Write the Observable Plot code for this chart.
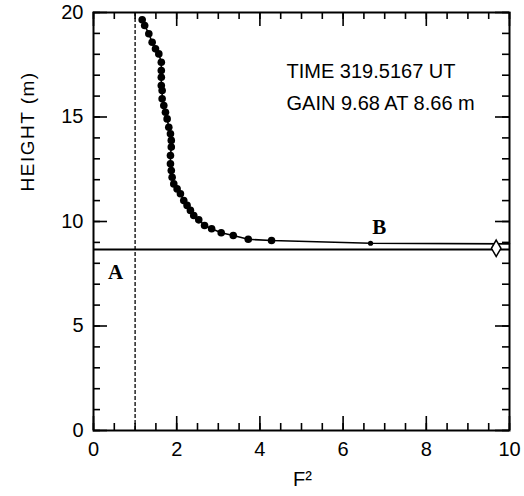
<!DOCTYPE html>
<html>
<head>
<meta charset="utf-8">
<script src="https://cdn.jsdelivr.net/npm/d3@7"></script>
<script src="https://cdn.jsdelivr.net/npm/@observablehq/plot@0.6"></script>
<style>
  body { margin: 0; background: #fff; }
  svg { font-family: "Liberation Sans", Arial, sans-serif; }
</style>
</head>
<body>
<div id="chart"></div>
<script>
// Profile points: F^2 and height (m)
const f2 = [1.17, 1.23, 1.33, 1.41, 1.49, 1.57, 1.63, 1.63, 1.63, 1.63, 1.65, 1.65, 1.69, 1.73, 1.77, 1.81, 1.85, 1.87, 1.87, 1.85, 1.85, 1.87, 1.89, 1.93, 2.01, 2.09, 2.17, 2.25, 2.33, 2.41, 2.53, 2.67, 2.84, 3.07, 3.36, 3.72, 4.28];
const height = [19.65, 19.38, 18.98, 18.58, 18.26, 18.02, 17.62, 17.22, 16.90, 16.51, 16.27, 15.87, 15.55, 15.23, 14.91, 14.51, 14.20, 13.88, 13.56, 13.16, 12.76, 12.44, 12.12, 11.80, 11.56, 11.33, 11.00, 10.77, 10.53, 10.29, 10.08, 9.81, 9.65, 9.46, 9.33, 9.15, 9.09];
// Line continuation through point B to the right frame
const tailF2 = [6.66, 10];
const tailHeight = [8.96, 8.93];
const pointB = [{x: 6.66, y: 8.96}];
const gainPoint = [{x: 9.68, y: 8.72}];
const gainHeight = [8.66];
const unityF2 = [1];
const xTicks = [0, 2, 4, 6, 8, 10];
const yTicks = [0, 5, 10, 15, 20];
const xMinor = d3.range(0, 10.001, 0.5);
const yMinor = d3.range(0, 20.001, 1);
const infoLines = [
  {x: 4.64, y: 17.18, text: "TIME 319.5167 UT"},
  {x: 4.64, y: 15.65, text: "GAIN 9.68 AT 8.66 m"}
];
const letterLabels = [
  {x: 0.53, y: 7.58, text: "A"},
  {x: 6.87, y: 9.71, text: "B"}
];
const xTitle = ["F²"];
const yTitle = ["HEIGHT (m)"];

const pts = f2.map((x, i) => ({x, y: height[i]}));
const linePts = pts.concat(tailF2.map((x, i) => ({x, y: tailHeight[i]})));

// inward ticks as short rules; pixel lengths converted to domain units (frame 416 x 418 px)
const FW = 416, FH = 418, XMAX = 10, YMAX = 20;
const tickStyle = {stroke: "#000", strokeWidth: 1.6};
function inwardTicks(px, xs, ys) {
  const dy = px * YMAX / FH, dx = px * XMAX / FW;
  return [
    Plot.ruleX(xs, {x: d => d, y1: 0, y2: dy, ...tickStyle}),
    Plot.ruleX(xs, {x: d => d, y1: YMAX - dy, y2: YMAX, ...tickStyle}),
    Plot.ruleY(ys, {y: d => d, x1: 0, x2: dx, ...tickStyle}),
    Plot.ruleY(ys, {y: d => d, x1: XMAX - dx, x2: XMAX, ...tickStyle})
  ];
}

const chart = Plot.plot({
  width: 524,
  height: 496,
  marginLeft: 93,
  marginRight: 15,
  marginTop: 12,
  marginBottom: 66,
  style: {fontFamily: "'Liberation Sans', Arial, sans-serif", fontSize: "20px", color: "#000", background: "#fff"},
  x: {domain: [0, XMAX]},
  y: {domain: [0, YMAX]},
  marks: [
    Plot.axisX({anchor: "bottom", ticks: xTicks, tickSize: 0, tickPadding: 11, label: null, fontSize: 20}),
    Plot.axisY({anchor: "left", ticks: yTicks, tickSize: 0, tickPadding: 10, label: null, fontSize: 20}),
    Plot.text(xTitle, {frameAnchor: "bottom", dx: 1, dy: 55, fontSize: 20}),
    Plot.text(yTitle, {frameAnchor: "left", rotate: -90, dx: -66, dy: -30, fontSize: 19}),
    Plot.ruleX(unityF2, {x: d => d, stroke: "#000", strokeWidth: 1.3, strokeDasharray: "4,2"}),
    Plot.ruleY(gainHeight, {y: d => d, stroke: "#000", strokeWidth: 2}),
    Plot.line(linePts, {x: "x", y: "y", stroke: "#000", strokeWidth: 1.6}),
    Plot.dot(pts, {x: "x", y: "y", r: 3.8, fill: "#000", stroke: null}),
    Plot.dot(pointB, {x: "x", y: "y", r: 2.6, fill: "#000", stroke: null}),
    Plot.dot(gainPoint, {x: "x", y: "y", symbol: "diamond", r: 5, fill: "#fff", stroke: "#000", strokeWidth: 1.5}),
    Plot.text(infoLines, {x: "x", y: "y", text: "text", textAnchor: "start", fontSize: 20}),
    Plot.text(letterLabels, {x: "x", y: "y", text: "text", fontSize: 21, fontWeight: "bold", fontFamily: "'Liberation Serif', 'Times New Roman', serif"}),
    Plot.frame({stroke: "#000", strokeWidth: 2}),
    ...inwardTicks(7, xMinor, yMinor),
    ...inwardTicks(14, xTicks, yTicks)
  ]
});
d3.select(chart).selectAll("text").filter(function() { return this.textContent === "HEIGHT (m)"; }).style("letter-spacing", "1.5px");
document.getElementById("chart").appendChild(chart);
</script>
</body>
</html>
